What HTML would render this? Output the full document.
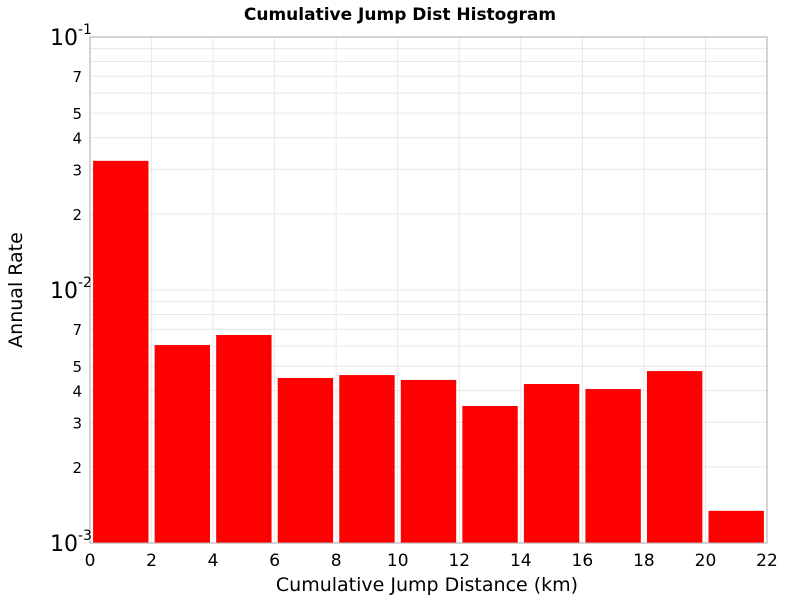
<!DOCTYPE html>
<html><head><meta charset="utf-8"><style>
body{margin:0;background:#fff;font-family:"Liberation Sans","DejaVu Sans",sans-serif;}
svg text{font-family:"DejaVu Sans","Liberation Sans",sans-serif;}
</style></head><body>
<svg id="chart" width="800" height="600" xmlns="http://www.w3.org/2000/svg">
<text x="400" y="20" text-anchor="middle" font-size="17" font-weight="bold">Cumulative Jump Dist Histogram</text>
<g id="grid"></g>
<g id="bars"></g>
<rect x="90" y="37" width="677" height="506" fill="none" stroke="#aaa" stroke-width="1"/>
<g id="yticks"></g>
<g id="xticks"></g>
<text x="427" y="591" text-anchor="middle" font-size="19">Cumulative Jump Distance (km)</text>
<text transform="translate(22,290) rotate(-90)" text-anchor="middle" font-size="19">Annual Rate</text>
</svg>
<script>
const binStarts=[0,2,4,6,8,10,12,14,16,18,20];
const rates=[0.0324,0.00606,0.00664,0.00449,0.00461,0.00441,0.00348,0.00425,0.00406,0.00478,0.00134];
const xTickLabels=[0,2,4,6,8,10,12,14,16,18,20,22];
const minorTicks=[2,3,4,5,7];
const NS="http://www.w3.org/2000/svg";
const L=90,R=767,T=37,B=543,xMin=0,xMax=22,lMin=-3,lMax=-1;
const xs=v=>L+(v-xMin)/(xMax-xMin)*(R-L);
const ys=v=>B-(Math.log10(v)-lMin)/(lMax-lMin)*(B-T);
function mk(t,a,p){const e=document.createElementNS(NS,t);for(const k in a)e.setAttribute(k,a[k]);p.appendChild(e);return e;}
const grid=document.getElementById('grid'),bars=document.getElementById('bars'),yt=document.getElementById('yticks'),xt=document.getElementById('xticks');
for(let d=lMin;d<lMax;d++){for(let m=1;m<10;m++){const v=m*Math.pow(10,d);const y=ys(v);
 const g=mk('line',{x1:L,x2:R,y1:y,y2:y,stroke:'#e8e8e8','stroke-width':1},grid);
 
 
 if(minorTicks.includes(m)){const t=mk('text',{x:82,y:y+6,'text-anchor':'end','font-size':15},yt);t.textContent=m;
  
  }
}}
for(let d=lMin;d<=lMax;d++){const y=ys(Math.pow(10,d));
 const t=mk('text',{x:50,y:y+8,'font-size':22},yt);t.innerHTML='10<tspan dy="-11" font-size="14">'+d+'</tspan>';
 
 }
xTickLabels.forEach(v=>{const x=xs(v);
 const g=mk('line',{x1:x,x2:x,y1:T,y2:B,stroke:'#e8e8e8','stroke-width':1},grid);
 
 
 const t=mk('text',{x:x,y:566,'text-anchor':'middle','font-size':17},xt);t.textContent=v;
 
 });
binStarts.forEach((s,i)=>{const x0=xs(s+0.1),x1=xs(s+1.9),y=ys(rates[i]);
 const r=mk('rect',{x:x0,y:y,width:x1-x0,height:B-y,fill:'#ff0000'},bars);
 
 });
</script>
</body></html>
